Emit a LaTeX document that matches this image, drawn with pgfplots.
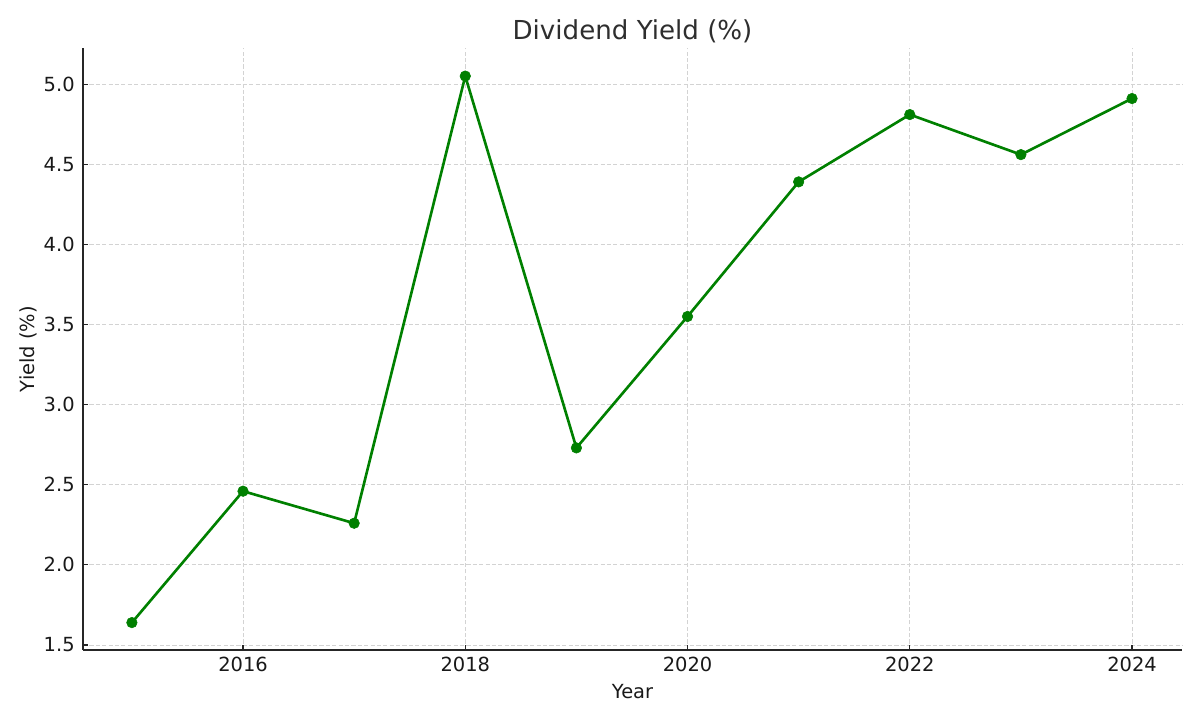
\documentclass[border=0pt]{standalone}
\usepackage{pgfplots}
\pgfplotsset{compat=1.18}
\usepackage{fontspec}
\setmainfont{DejaVu Sans}
\definecolor{mplgreen}{HTML}{008000}
\definecolor{gridgray}{HTML}{D3D3D3}
\definecolor{titlegray}{HTML}{2E2E2E}
\begin{document}
\begin{tikzpicture}
\path[use as bounding box] (-59.76pt,-50.4pt) rectangle (804.24pt,468pt);
\begin{axis}[
  at={(0,0)}, anchor=south west,
  scale only axis,
  width=791.3pt, height=433.4pt,
  xmin=2014.56, xmax=2024.45,
  ymin=1.469, ymax=5.225,
  xtick={2016,2018,2020,2022,2024},
  ytick={1.5,2.0,2.5,3.0,3.5,4.0,4.5,5.0},
  xticklabel style={/pgf/number format/1000 sep={}, inner sep=0pt, yshift=-5pt},
  yticklabel style={/pgf/number format/fixed, /pgf/number format/fixed zerofill, /pgf/number format/precision=1, inner sep=0pt, xshift=-5.8pt},
  /pgf/number format/assume math mode=true,
  tick label style={font=\fontsize{14}{16}\selectfont, text=black!90},
  axis x line*=bottom, axis y line*=left,
  axis line style={line width=1pt, black!85, -},
  tick style={line width=0.8pt, black!85},
  tick align=inside,
  major tick length=3.5pt,
  grid=major,
  major grid style={gridgray, dash pattern=on 3pt off 1.6pt, line width=0.6pt},
  title={Dividend Yield (\%)},
  title style={at={(axis description cs:0.5,1)}, anchor=base, yshift=0pt, font=\fontsize{18.8}{22}\selectfont, text=titlegray},
  xlabel={Year},
  xlabel style={at={(axis description cs:0.5,0)}, anchor=base, yshift=-34.6pt, font=\fontsize{14}{16}\selectfont, text=black!90},
  ylabel={Yield (\%)},
  ylabel style={at={(axis description cs:-0.0437,0.5)}, anchor=base, font=\fontsize{14}{16}\selectfont, text=black!90},
  clip=false,
]
\addplot[mplgreen, line width=1.9pt, mark=*, mark size=3.8pt, mark options={solid, fill=mplgreen, draw=mplgreen, line width=0.4pt}]
coordinates {
(2015,1.64) (2016,2.46) (2017,2.26) (2018,5.05) (2019,2.73)
(2020,3.55) (2021,4.39) (2022,4.81) (2023,4.56) (2024,4.91)
};
\end{axis}
\end{tikzpicture}
\end{document}
